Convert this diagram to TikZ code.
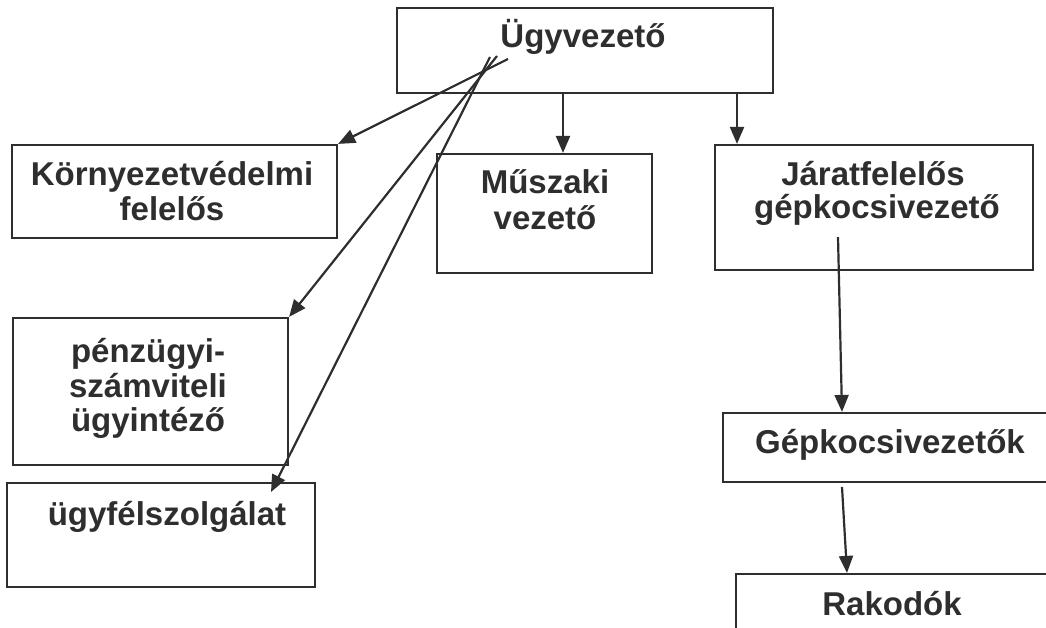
\documentclass[tikz,border=0pt]{standalone}
\usepackage{fontspec}
\setmainfont{Liberation Sans}
\usetikzlibrary{arrows.meta}
\definecolor{ink}{HTML}{2E2E2E}
\begin{document}
\begin{tikzpicture}[x=1pt,y=-1pt,
  box/.style={draw=ink,line width=2.2pt,rectangle,inner sep=0pt},
  lbl/.style={text=ink,font=\fontsize{33}{35}\selectfont\bfseries,anchor=base,inner sep=0pt},
  conn/.style={draw=ink,line width=2.2pt,-{Triangle[length=17pt,width=14pt]}}]
\useasboundingbox (0,0) rectangle (1046,627);
\clip (0,0) rectangle (1046,627);
% boxes
\node[box,minimum width=376pt,minimum height=85pt] (ugy) at (585,50.5) {};
\node[box,minimum width=325pt,minimum height=93pt] (korny) at (174.5,191.5) {};
\node[box,minimum width=215pt,minimum height=119pt] (musz) at (544.5,213.5) {};
\node[box,minimum width=318pt,minimum height=125pt] (jarat) at (874,207.5) {};
\node[box,minimum width=275pt,minimum height=147pt] (penz) at (150.5,391.5) {};
\node[box,minimum width=308pt,minimum height=104pt] (ugyf) at (161,535) {};
\node[box,minimum width=330pt,minimum height=69pt] (gepk) at (888,447.5) {};
\node[box,minimum width=330pt,minimum height=80pt] (rakod) at (901,614) {};
% labels
\node[lbl] (tugy) at (583,47) {Ügyvezető};
\node[lbl] (tkorny1) at (172,185) {Környezetvédelmi};
\node[lbl] (tkorny2) at (172,220) {felelős};
\node[lbl] (tmusz1) at (545,193) {Műszaki};
\node[lbl] (tmusz2) at (545,229) {vezető};
\node[lbl] (tjarat1) at (873,185) {Járatfelelős};
\node[lbl] (tjarat2) at (877,218) {gépkocsivezető};
\node[lbl] (tpenz1) at (148,362) {pénzügyi-};
\node[lbl] (tpenz2) at (148,397) {számviteli};
\node[lbl] (tpenz3) at (148,431) {ügyintéző};
\node[lbl] (tugyf) at (167,525) {ügyfélszolgálat};
\node[lbl] (tgepk) at (890,453) {Gépkocsivezetők};
\node[lbl] (trakod) at (892,615) {Rakodók};
% free ends
\coordinate (s1) at (508,59);
\coordinate (s2) at (497,56);
\coordinate (s3) at (490,57);
\coordinate (s4) at (838,237);
\coordinate (s5) at (842,487);
% connectors
\draw[conn] (ugy.south -| 563,0) -- (musz.north -| 563,0);
\draw[conn] (ugy.south -| 737,0) -- (jarat.north -| 737,0);
\draw[conn] (s1) -- (korny.north east);
\draw[conn] (s2) -- (penz.north east);
\draw[conn] (s3) -- (271,492) coordinate (e3);
\draw[conn] (s4) -- (gepk.north -| 842,0);
\draw[conn] (s5) -- (rakod.north -| 847,0);
\end{tikzpicture}
\end{document}
